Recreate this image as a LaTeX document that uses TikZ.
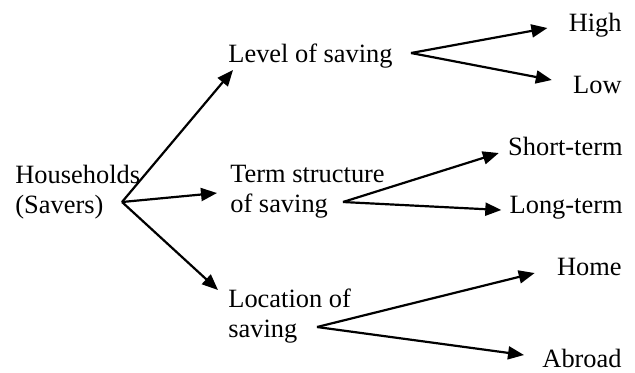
\documentclass[tikz,border=0pt]{standalone}
\usepackage{fontspec}
\setmainfont{Liberation Serif}
\usetikzlibrary{arrows.meta}

\begin{document}
\begin{tikzpicture}[x=0.5pt, y=-0.5pt,
    every node/.style={inner sep=0pt, font=\fontsize{13.2pt}{14.8pt}\selectfont},
    item/.style={anchor=base west, align=left},
    leaf/.style={anchor=base east},
    arr/.style={line width=1.1pt, -{Triangle[length=8pt,width=6.5pt]}}]

\useasboundingbox (0,0) rectangle (635,372);

% Saver and the three choices (base = last line)
\node[item] (hh)   at (15,213)  {Households\\(Savers)};
\node[item] (lvl)  at (228,62)  {Level of saving};
\node[item] (term) at (230,212) {Term structure\\of saving};
\node[item] (loc)  at (228,337) {Location of\\saving};

% Outcomes
\node[leaf] (high)   at (622,31)  {High};
\node[leaf] (low)    at (622,93)  {Low};
\node[leaf] (short)  at (623,155) {Short-term};
\node[leaf] (long)   at (623,213) {Long-term};
\node[leaf] (home)   at (622,275) {Home};
\node[leaf] (abroad) at (622,367) {Abroad};

% Forks where the arrows leave
\coordinate (hhfork)   at ([shift={(107,-11)}]hh.base west);
\coordinate (lvlfork)  at ([shift={(18,-9)}]lvl.base east);
\coordinate (termfork) at ([shift={(113,-10)}]term.base west);
\coordinate (locfork)  at ([shift={(89,-10)}]loc.base west);

% Draw the arrows
\draw[arr] (hhfork) -- ([shift={(5,8)}]lvl.base west);
\draw[arr] (hhfork) -- ([shift={(-13,-19)}]term.base west);
\draw[arr] (hhfork) -- ([shift={(-10,-47)}]loc.base west);

\draw[arr] (lvlfork) -- ([shift={(-21,-3)}]high.base west);
\draw[arr] (lvlfork) -- ([shift={(-21,-13)}]low.base west);

\draw[arr] (termfork) -- ([shift={(-9,-2)}]short.base west);
\draw[arr] (termfork) -- ([shift={(-8,-3)}]long.base west);

\draw[arr] (locfork) -- ([shift={(-22,-2)}]home.base west);
\draw[arr] (locfork) -- ([shift={(-18,-12)}]abroad.base west);

\end{tikzpicture}
\end{document}
